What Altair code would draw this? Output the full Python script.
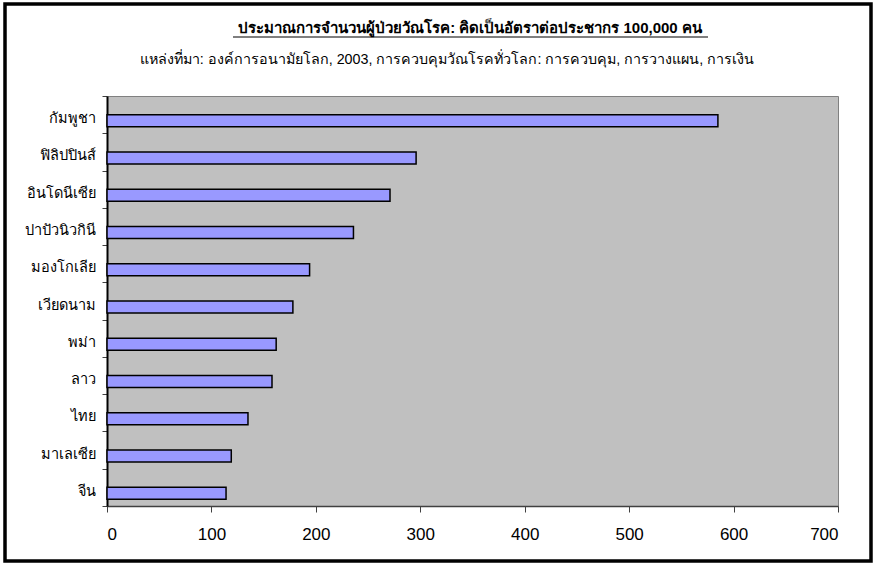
import altair as alt
import pandas as pd

# ---- data ----
countries = ["กัมพูชา", "ฟิลิปปินส์", "อินโดนีเซีย", "ปาปัวนิวกินี", "มองโกเลีย",
             "เวียดนาม", "พม่า", "ลาว", "ไทย", "มาเลเซีย", "จีน"]
rates = [585, 296, 271, 236, 194, 178, 162, 158, 135, 119, 114]
x_ticks = [0, 100, 200, 300, 400, 500, 600, 700]
title_text = ["ประมาณการจำนวนผู้ป่วยวัณโรค: คิดเป็นอัตราต่อประชากร 100,000 คน"]
subtitle_text = ["แหล่งที่มา:  องค์การอนามัยโลก, 2003, การควบคุมวัณโรคทั่วโลก: การควบคุม, การวางแผน, การเงิน"]

df = pd.DataFrame({"country": countries, "rate": rates})

W, H = 731, 410
FONT = "Liberation Sans"

bars = alt.Chart(df).mark_bar(
    color="#9999FF", stroke="black", strokeWidth=1.5, size=12, yOffset=6
).encode(
    x=alt.X("rate:Q",
            scale=alt.Scale(domain=[0, 700], nice=False),
            axis=alt.Axis(values=x_ticks, title=None, grid=False, tickSize=6,
                          labelFontSize=17, labelPadding=14, labelFont=FONT,
                          labelColor="black", domainColor="#404040",
                          tickColor="#404040", domainWidth=1.5, tickWidth=1)),
    y=alt.Y("country:N", sort=countries,
            scale=alt.Scale(paddingInner=0, paddingOuter=0),
            axis=alt.Axis(title=None, tickBand="extent", tickSize=5,
                          labelPadding=7, labelFontSize=14.5, labelOffset=4,
                          labelFont=FONT, labelColor="black",
                          domainColor="black", domainWidth=2,
                          tickColor="#404040", tickWidth=1)),
)

title_mark = alt.Chart(pd.DataFrame({"t": title_text})).mark_text(
    fontWeight="bold", fontSize=15, font=FONT, color="black", baseline="middle"
).encode(text="t:N", x=alt.value(470 - 107), y=alt.value(28 - 96))

underline = alt.Chart(pd.DataFrame({"t": title_text})).mark_rule(
    color="black", strokeWidth=1.2
).encode(x=alt.value(233 - 107), x2=alt.value(708 - 107), y=alt.value(37 - 96))

subtitle_mark = alt.Chart(pd.DataFrame({"t": subtitle_text})).mark_text(
    fontSize=14.3, font=FONT, color="black", baseline="middle"
).encode(text="t:N", x=alt.value(447 - 107), y=alt.value(60 - 96))

border = alt.Chart(pd.DataFrame({"t": title_text})).mark_rect(
    fill=None, stroke="black", strokeWidth=3.5
).encode(x=alt.value(5 - 107), x2=alt.value(871 - 107),
         y=alt.value(4 - 96), y2=alt.value(561 - 96))

chart = alt.layer(bars, title_mark, underline, subtitle_mark, border).properties(
    width=W, height=H,
    autosize=alt.AutoSizeParams(type="none"),
    padding={"left": 107, "top": 96, "right": 36, "bottom": 58},
    background="white",
).configure_view(fill="#C0C0C0", stroke="#808080", strokeWidth=1)

chart.save("out.html", embed_options={"renderer": "svg", "actions": False})
